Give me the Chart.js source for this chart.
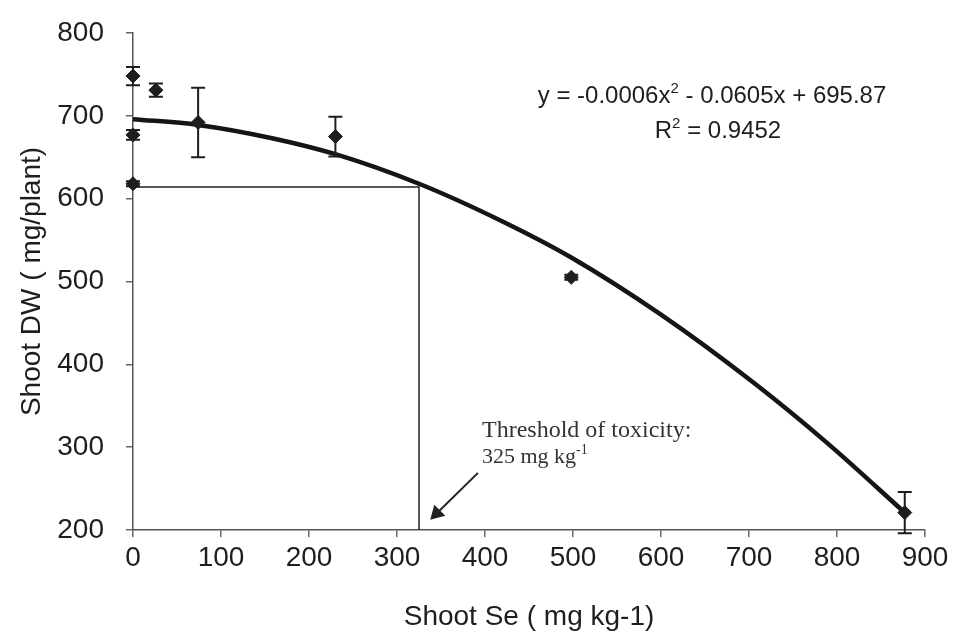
<!DOCTYPE html>
<html>
<head>
<meta charset="utf-8">
<script src="https://cdn.jsdelivr.net/npm/chart.js@4/dist/chart.umd.min.js"></script>
<style>
  html, body { margin: 0; padding: 0; background: #fff; }
  #wrap { width: 961px; height: 636px; position: relative; }
</style>
</head>
<body>
<div id="wrap"><canvas id="chart"></canvas></div>
<script>
// measured points (shoot Se vs shoot dry weight) with error half-widths
const seX = [0, 26, 0, 0, 74, 230, 498, 877];
const dwY = [748, 731, 677, 618, 692, 675, 505, 221];
const dwErr = [11, 8, 6, 3, 42, 24, 3, 25];

// fitted curve
const fitX = [0, 74, 158, 229, 325, 417, 498, 600, 705, 790, 877];
const fitY = [696, 689, 673, 654, 618, 574, 529, 460, 378, 304, 221];

// threshold guide lines and arrow
const threshX = [0, 325, 325];
const threshY = [614, 614, 200];
const arrowX = [392, 345];
const arrowY = [269, 220];

const sans = '"Liberation Sans", Arial, sans-serif';
const serif = '"Liberation Serif", "Times New Roman", serif';
const ink = '#1e1e1e';

const toPts = (xs, ys) => xs.map((v, i) => ({ x: v, y: ys[i] }));

// draws text with superscript parts, parts = [[text, isSup], ...]
function drawRich(ctx, parts, x, y, size, family, align) {
  const widths = parts.map(([t, sup]) => {
    ctx.font = `${sup ? Math.round(size * 0.62) : size}px ${family}`;
    return ctx.measureText(t).width;
  });
  const total = widths.reduce((a, b) => a + b, 0);
  let cx = align === 'center' ? x - total / 2 : x;
  ctx.textAlign = 'left';
  parts.forEach(([t, sup], i) => {
    ctx.font = `${sup ? Math.round(size * 0.62) : size}px ${family}`;
    ctx.fillText(t, cx, sup ? y - size * 0.42 : y);
    cx += widths[i];
  });
}

const errorBars = {
  id: 'errorBars',
  afterDatasetsDraw(chart) {
    const { ctx, scales: { x, y } } = chart;
    ctx.save();
    ctx.strokeStyle = ink;
    ctx.lineWidth = 2;
    seX.forEach((sx, i) => {
      const px = x.getPixelForValue(sx);
      const top = y.getPixelForValue(dwY[i] + dwErr[i]);
      const bot = y.getPixelForValue(dwY[i] - dwErr[i]);
      ctx.beginPath();
      ctx.moveTo(px, top); ctx.lineTo(px, bot);
      ctx.moveTo(px - 7, top); ctx.lineTo(px + 7, top);
      ctx.moveTo(px - 7, bot); ctx.lineTo(px + 7, bot);
      ctx.stroke();
    });
    ctx.restore();
  }
};

const notes = {
  id: 'notes',
  afterDraw(chart) {
    const ctx = chart.ctx;
    ctx.save();
    ctx.fillStyle = ink;
    ctx.textBaseline = 'alphabetic';
    drawRich(ctx, [['y = -0.0006x', false], ['2', true], [' - 0.0605x + 695.87', false]], 712, 103, 24, sans, 'center');
    drawRich(ctx, [['R', false], ['2', true], [' = 0.9452', false]], 718, 138, 24, sans, 'center');
    ctx.fillStyle = '#333';
    drawRich(ctx, [['Threshold of toxicity:', false]], 482, 437, 24, serif, 'left');
    drawRich(ctx, [['325 mg kg', false], ['-1', true]], 482, 463, 22, serif, 'left');
    ctx.restore();
  }
};

new Chart(document.getElementById('chart'), {
  type: 'scatter',
  data: {
    datasets: [
      {
        data: toPts(seX, dwY),
        pointStyle: 'rectRot',
        pointRadius: 7,
        pointHoverRadius: 7,
        backgroundColor: ink,
        borderColor: ink,
        clip: false
      },
      {
        data: toPts(fitX, fitY),
        showLine: true,
        cubicInterpolationMode: 'monotone',
        borderColor: '#151515',
        borderWidth: 4.5,
        pointRadius: 0,
        clip: false
      },
      {
        data: toPts(threshX, threshY),
        showLine: true,
        tension: 0,
        borderColor: '#222',
        borderWidth: 1.5,
        pointRadius: 0
      },
      {
        data: toPts(arrowX, arrowY),
        showLine: true,
        borderColor: '#222',
        borderWidth: 2,
        pointStyle: 'triangle',
        rotation: 225,
        pointRadius: [0, 7],
        backgroundColor: '#222',
        clip: false
      }
    ]
  },
  options: {
    responsive: true,
    maintainAspectRatio: false,
    animation: false,
    events: [],
    layout: { padding: { top: 33, right: 36, left: 0, bottom: 0 } },
    plugins: { legend: { display: false }, tooltip: { enabled: false } },
    scales: {
      x: {
        type: 'linear',
        min: 0,
        max: 900,
        ticks: { stepSize: 100, color: ink, padding: 4, font: { family: sans, size: 28 } },
        grid: { drawOnChartArea: false, tickLength: 7, color: '#666', lineWidth: 1.5 },
        border: { color: '#555', width: 1.5 },
        title: {
          display: true,
          text: 'Shoot Se ( mg kg-1)',
          color: ink,
          font: { family: sans, size: 28 },
          padding: { top: 0, bottom: 2 }
        },
        afterFit(scale) {
          scale.height = 106;
          scale.paddingLeft = 0;
          scale.paddingRight = 0;
        }
      },
      y: {
        type: 'linear',
        min: 200,
        max: 800,
        ticks: { stepSize: 100, color: ink, padding: 22, font: { family: sans, size: 28 } },
        grid: { drawOnChartArea: false, tickLength: 7, color: '#666', lineWidth: 1.5 },
        border: { color: '#555', width: 1.5 },
        title: {
          display: true,
          text: 'Shoot DW ( mg/plant)',
          color: ink,
          font: { family: sans, size: 28 },
          padding: { top: 15, bottom: 0 }
        },
        afterFit(scale) {
          scale.width = 133;
          scale.paddingTop = 0;
          scale.paddingBottom = 0;
        }
      }
    }
  },
  plugins: [errorBars, notes]
});
</script>
</body>
</html>
